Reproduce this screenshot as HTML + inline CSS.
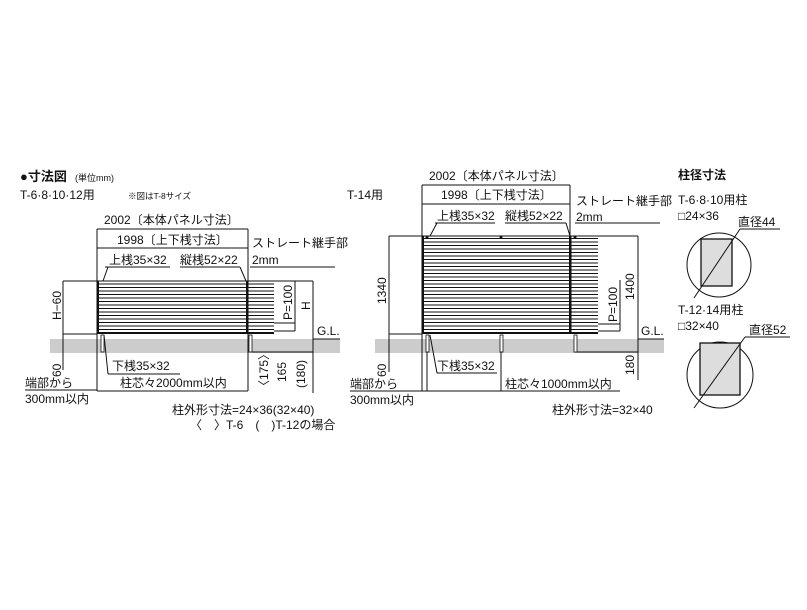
<!DOCTYPE html>
<html><head><meta charset="utf-8"><style>
html,body{margin:0;padding:0;background:#fff}
svg text{font-family:"Liberation Sans","Noto Sans CJK JP",sans-serif;fill:#111}
</style></head><body>
<svg width="807" height="605" viewBox="0 0 807 605" xmlns="http://www.w3.org/2000/svg">
<defs>
<pattern id="sl" width="10" height="3.5" patternUnits="userSpaceOnUse"><rect width="10" height="1" fill="#111"/></pattern>
</defs>
<g stroke="#111" stroke-width="1" fill="none">
<rect x="50" y="339" width="290" height="14" fill="#ccc" stroke="none"/>
<line x1="97" y1="229" x2="248" y2="229"/><line x1="97" y1="248" x2="248" y2="248"/>
<line x1="97" y1="229" x2="97" y2="391"/><line x1="248" y1="229" x2="248" y2="391"/>
<line x1="97" y1="391" x2="248" y2="391"/>
<line x1="63" y1="281" x2="313" y2="281"/>
<line x1="63" y1="281" x2="63" y2="370"/><line x1="313" y1="281" x2="313" y2="393"/>
<line x1="63" y1="334" x2="97" y2="334"/>
<line x1="274" y1="323" x2="295" y2="323"/><line x1="274" y1="331" x2="295" y2="331"/>
<line x1="295" y1="281" x2="295" y2="331"/>
<line x1="252" y1="352" x2="313" y2="352"/>
<line x1="313" y1="339" x2="340" y2="339"/>
<line x1="105" y1="267" x2="170" y2="267"/><line x1="108" y1="267" x2="103" y2="281"/>
<line x1="180" y1="267" x2="240" y2="267"/><line x1="240" y1="267" x2="246" y2="281"/>
<line x1="250" y1="267" x2="335" y2="267"/>
<line x1="108" y1="374" x2="180" y2="374"/><line x1="108" y1="374" x2="104" y2="335"/>
<line x1="25" y1="390" x2="97" y2="390"/>
</g>
<rect x="97" y="281" width="177" height="53" fill="url(#sl)"/>
<rect x="97" y="281" width="2" height="53" fill="#111"/>
<rect x="246" y="281" width="2.5" height="53" fill="#111"/>
<rect x="97" y="332" width="177" height="2" fill="#111"/>
<rect x="101" y="335" width="3" height="17" fill="#fff" stroke="#111" stroke-width="0.8"/>
<rect x="249" y="335" width="3" height="17" fill="#fff" stroke="#111" stroke-width="0.8"/>
<g stroke="#111" stroke-width="1" fill="none">
<rect x="375" y="339" width="289" height="14" fill="#ccc" stroke="none"/>
<line x1="422" y1="185" x2="570" y2="185"/><line x1="422" y1="204" x2="570" y2="204"/>
<line x1="422" y1="185" x2="422" y2="391"/><line x1="570" y1="185" x2="570" y2="236"/>
<line x1="389" y1="236" x2="638" y2="236"/>
<line x1="389" y1="236" x2="389" y2="372"/><line x1="638" y1="236" x2="638" y2="380"/>
<line x1="389" y1="334" x2="422" y2="334"/>
<line x1="598" y1="324" x2="620" y2="324"/><line x1="598" y1="331" x2="620" y2="331"/>
<line x1="620" y1="280" x2="620" y2="331"/>
<line x1="575" y1="352" x2="638" y2="352"/>
<line x1="638" y1="339" x2="664" y2="339"/>
<line x1="435" y1="223" x2="495" y2="223"/><line x1="437" y1="223" x2="430" y2="236"/>
<line x1="505" y1="223" x2="566" y2="223"/><line x1="566" y1="223" x2="570" y2="236"/>
<line x1="575" y1="223" x2="660" y2="223"/>
<line x1="437" y1="373" x2="497" y2="373"/><line x1="437" y1="373" x2="430" y2="335"/>
<line x1="422" y1="391" x2="620" y2="391"/><line x1="427" y1="335" x2="427" y2="391"/><line x1="501" y1="335" x2="501" y2="391"/>
<line x1="350" y1="391" x2="422" y2="391"/>
</g>
<rect x="422" y="236" width="176" height="98" fill="url(#sl)"/>
<rect x="422" y="236" width="2" height="98" fill="#111"/>
<rect x="569" y="236" width="2.5" height="98" fill="#111"/>
<rect x="422" y="332" width="176" height="2" fill="#111"/>
<rect x="426" y="335" width="3" height="17" fill="#fff" stroke="#111" stroke-width="0.8"/>
<rect x="500" y="335" width="3" height="17" fill="#fff" stroke="#111" stroke-width="0.8"/>
<rect x="574" y="335" width="3" height="17" fill="#fff" stroke="#111" stroke-width="0.8"/>
<circle cx="427" cy="237" r="1.5" fill="#111"/><circle cx="501" cy="237" r="1.5" fill="#111"/><circle cx="575" cy="237" r="1.5" fill="#111"/>
<g stroke="#111" fill="none">
<circle cx="719" cy="265" r="32"/>
<rect x="701" y="239" width="31" height="47" fill="#ddd" stroke-width="1.3"/>
<line x1="694" y1="298" x2="740" y2="229"/>
<line x1="740" y1="229" x2="780" y2="229"/>
<circle cx="720" cy="375" r="33"/>
<rect x="700" y="343" width="40" height="52" fill="#ddd" stroke-width="1.3"/>
<line x1="694" y1="408" x2="745" y2="337"/>
<line x1="745" y1="337" x2="790" y2="337"/>
</g>
<text x="20" y="181" font-size="13" font-weight="bold">●寸法図</text>
<text x="75" y="181" font-size="9">(単位mm)</text>
<text x="20" y="199" font-size="12">T-6·8·10·12用</text>
<text x="128" y="199" font-size="8.5">※図はT-8サイズ</text>
<text x="104" y="224" font-size="12">2002〔本体パネル寸法〕</text>
<text x="117" y="244" font-size="12">1998〔上下桟寸法〕</text>
<text x="109" y="264" font-size="12">上桟35×32</text>
<text x="180" y="264" font-size="12">縦桟52×22</text>
<text x="252" y="247" font-size="12">ストレート継手部</text>
<text x="252" y="264" font-size="12">2mm</text>
<text x="317" y="335" font-size="12">G.L.</text>
<text x="112" y="370" font-size="12">下桟35×32</text>
<text x="120" y="387" font-size="12">柱芯々2000mm以内</text>
<text x="25" y="387" font-size="12">端部から</text>
<text x="25" y="403" font-size="12">300mm以内</text>
<text x="172" y="414" font-size="12">柱外形寸法=24×36(32×40)</text>
<text x="190" y="429" font-size="12">〈　〉T-6　(　)T-12の場合</text>
<text font-size="12" transform="translate(61,320) rotate(-90)">H−60</text>
<text font-size="12" transform="translate(61,377) rotate(-90)">60</text>
<text font-size="12" transform="translate(292,320) rotate(-90)">P=100</text>
<text font-size="12" transform="translate(310,310) rotate(-90)">H</text>
<text font-size="12" transform="translate(268,392) rotate(-90)">〈175〉</text>
<text font-size="12" transform="translate(286,382) rotate(-90)">165</text>
<text font-size="12" transform="translate(305,388) rotate(-90)">(180)</text>

<text x="347" y="199" font-size="12">T-14用</text>
<text x="429" y="180" font-size="12">2002〔本体パネル寸法〕</text>
<text x="441" y="199" font-size="12">1998〔上下桟寸法〕</text>
<text x="437" y="220" font-size="12">上桟35×32</text>
<text x="505" y="220" font-size="12">縦桟52×22</text>
<text x="576" y="205" font-size="12">ストレート継手部</text>
<text x="576" y="221" font-size="12">2mm</text>
<text x="641" y="335" font-size="12">G.L.</text>
<text x="437" y="370" font-size="12">下桟35×32</text>
<text x="505" y="388" font-size="12">柱芯々1000mm以内</text>
<text x="350" y="388" font-size="12">端部から</text>
<text x="350" y="404" font-size="12">300mm以内</text>
<text x="552" y="414" font-size="12">柱外形寸法=32×40</text>
<text font-size="12" transform="translate(386,304) rotate(-90)">1340</text>
<text font-size="12" transform="translate(386,377) rotate(-90)">60</text>
<text font-size="12" transform="translate(617,322) rotate(-90)">P=100</text>
<text font-size="12" transform="translate(634,300) rotate(-90)">1400</text>
<text font-size="12" transform="translate(634,375) rotate(-90)">180</text>

<text x="678" y="179" font-size="12" font-weight="bold">柱径寸法</text>
<text x="678" y="204" font-size="12">T-6·8·10用柱</text>
<text x="678" y="220" font-size="12">□24×36</text>
<text x="738" y="226" font-size="12">直径44</text>
<text x="678" y="314" font-size="12">T-12·14用柱</text>
<text x="678" y="330" font-size="12">□32×40</text>
<text x="749" y="334" font-size="12">直径52</text>
</svg>
</body></html>
